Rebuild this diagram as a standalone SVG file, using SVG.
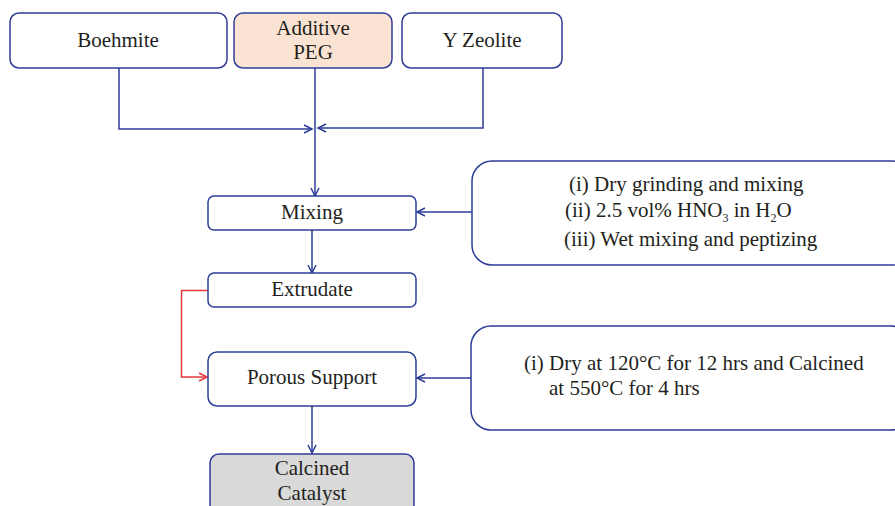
<svg xmlns="http://www.w3.org/2000/svg" width="895" height="506" viewBox="0 0 895 506">
<defs>
<style>
.box{fill:#ffffff;stroke:#2e3d98;stroke-width:1.5}
.peg{fill:#fbe3d4;stroke:#2e3d98;stroke-width:1.5}
.gray{fill:#d9d9d9;stroke:#2e3d98;stroke-width:1.5}
text{font-family:'Liberation Serif','DejaVu Serif',serif;font-size:21px;fill:#231f20}
.t{text-anchor:middle}
.c{fill:none;stroke:#2e3d98;stroke-width:1.5}
.r{fill:none;stroke:#e8383d;stroke-width:1.5}
</style>
<marker id="ab" markerWidth="12" markerHeight="12" refX="9" refY="5" orient="auto" markerUnits="userSpaceOnUse">
<path d="M1,1 L9,5 L1,9" fill="none" stroke="#2e3d98" stroke-width="1.5"/>
</marker>
<marker id="ar" markerWidth="12" markerHeight="12" refX="9" refY="5" orient="auto" markerUnits="userSpaceOnUse">
<path d="M1,1 L9,5 L1,9" fill="none" stroke="#e8383d" stroke-width="1.5"/>
</marker>
</defs>
<rect width="895" height="506" fill="#ffffff"/>
<g id="connectors">
<path class="c" d="M119,68 V129 H312" marker-end="url(#ab)"/>
<path class="c" d="M483,68 V128 H318" marker-end="url(#ab)"/>
<path class="c" d="M315,68 V196" marker-end="url(#ab)"/>
<path class="c" d="M312,230 V273" marker-end="url(#ab)"/>
<path class="c" d="M472,212 H417" marker-end="url(#ab)"/>
<path class="r" d="M208,290.5 H181.5 V377 H207" marker-end="url(#ar)"/>
<path class="c" d="M471,378 H417" marker-end="url(#ab)"/>
<path class="c" d="M312,406 V453" marker-end="url(#ab)"/>
</g>
<g id="boehmite">
<rect class="box" x="10" y="13" width="217" height="55" rx="9"/>
<text class="t" x="118" y="47">Boehmite</text>
</g>
<g id="additive-peg">
<rect class="peg" x="234" y="13" width="158" height="55" rx="9"/>
<text class="t" x="313" y="35">Additive</text>
<text class="t" x="313" y="59">PEG</text>
</g>
<g id="y-zeolite">
<rect class="box" x="402" y="13" width="160" height="55" rx="9"/>
<text class="t" x="482" y="47">Y Zeolite</text>
</g>
<g id="mixing">
<rect class="box" x="208" y="196" width="208" height="34" rx="6"/>
<text class="t" x="312" y="219">Mixing</text>
</g>
<g id="mixing-conditions">
<rect class="box" x="472" y="161" width="440" height="104" rx="20"/>
<text x="569" y="191">(i) Dry grinding and mixing</text>
<text x="565" y="217">(ii) 2.5 vol% HNO<tspan font-size="12" dy="5">3</tspan><tspan dy="-5"> in H</tspan><tspan font-size="12" dy="5">2</tspan><tspan dy="-5">O</tspan></text>
<text x="564" y="246">(iii) Wet mixing and peptizing</text>
</g>
<g id="extrudate">
<rect class="box" x="208" y="273" width="208" height="34" rx="6"/>
<text class="t" x="312" y="296">Extrudate</text>
</g>
<g id="porous-support">
<rect class="box" x="208" y="352" width="208" height="54" rx="9"/>
<text class="t" x="312" y="384">Porous Support</text>
</g>
<g id="calcination-conditions">
<rect class="box" x="471" y="326" width="440" height="104" rx="20"/>
<text x="524" y="370">(i) Dry at 120°C for 12 hrs and Calcined</text>
<text x="549" y="395">at 550°C for 4 hrs</text>
</g>
<g id="calcined-catalyst">
<rect class="gray" x="210" y="454" width="204" height="70" rx="9"/>
<text class="t" x="312" y="475">Calcined</text>
<text class="t" x="312" y="500">Catalyst</text>
</g>
</svg>
